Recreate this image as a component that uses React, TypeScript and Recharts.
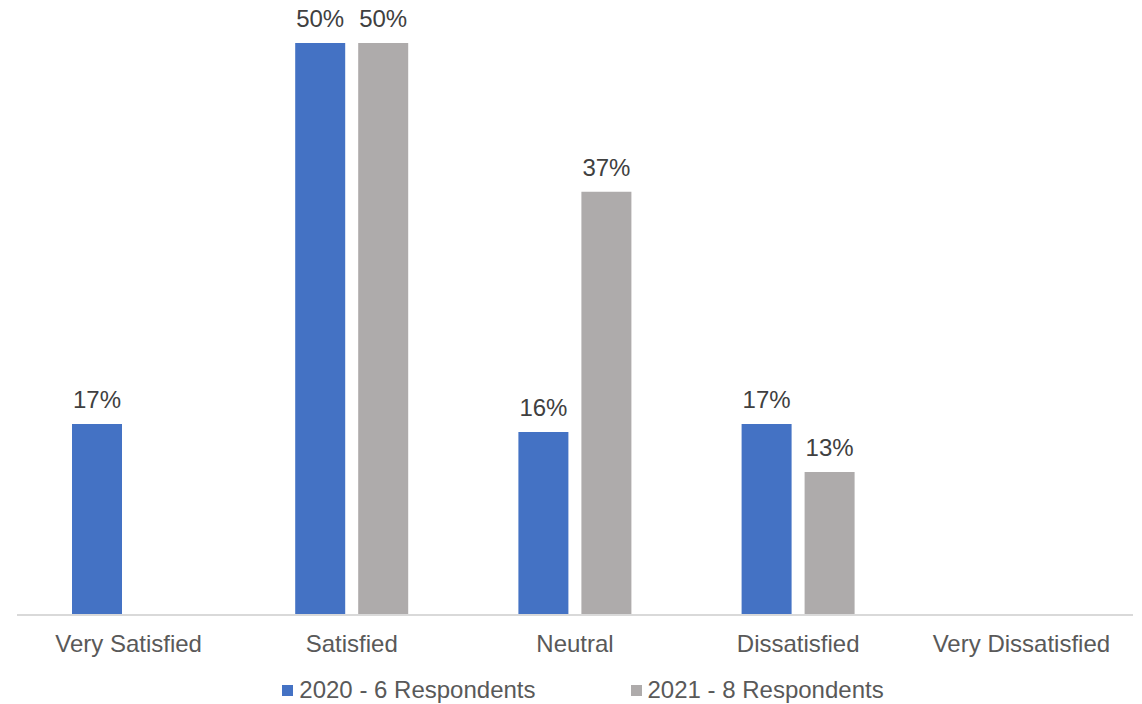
import React from 'react';
import { BarChart, Bar, XAxis, YAxis, Legend, LabelList } from 'recharts';

const categories = ['Very Satisfied', 'Satisfied', 'Neutral', 'Dissatisfied', 'Very Dissatisfied'];
const series2020 = [16.7, 50, 16, 16.7, null];
const series2021 = [null, 50, 37, 12.5, null];
const labels2020 = ['17%', '50%', '16%', '17%', null];
const labels2021 = [null, '50%', '37%', '13%', null];
const seriesNames = ['2020 - 6 Respondents', '2021 - 8 Respondents'];
const colors = ['#4472C4', '#AEABAB'];

const data = categories.map((c, i) => ({
  name: c,
  a: series2020[i],
  b: series2021[i],
  la: labels2020[i],
  lb: labels2021[i],
}));

const FONT = 'Liberation Sans, Arial, sans-serif';

const renderLegend = () => (
  <div style={{ display: 'flex', justifyContent: 'center', fontFamily: FONT, fontSize: 24, color: '#595959', height: 28, alignItems: 'center', paddingLeft: 16 }}>
    {seriesNames.map((n, i) => (
      <div key={n} style={{ display: 'flex', alignItems: 'center', marginLeft: i === 0 ? 0 : 95 }}>
        <span style={{ display: 'inline-block', width: 11, height: 11, background: colors[i], marginRight: 6 }} />
        <span>{n}</span>
      </div>
    ))}
  </div>
);

export default function App() {
  return (
    <div style={{ position: 'absolute', left: 0, top: 0, background: '#fff' }}>
      <BarChart
        width={1142}
        height={704}
        data={data}
        margin={{ top: 43, right: 9, left: 17, bottom: 0 }}
        barSize={50}
        barGap={13}
      >
        <XAxis
          dataKey="name"
          axisLine={{ stroke: '#D9D9D9', strokeWidth: 2 }}
          tickLine={false}
          tick={{ fontSize: 24, fill: '#595959', fontFamily: FONT }}
          tickMargin={14}
          height={61}
          interval={0}
        />
        <YAxis hide domain={[0, 50]} />
        <Legend verticalAlign="bottom" content={renderLegend} />
        <Bar dataKey="a" fill={colors[0]} isAnimationActive={false}>
          <LabelList dataKey="la" position="top" offset={16} style={{ fontSize: 24, fill: '#404040', fontFamily: FONT }} />
        </Bar>
        <Bar dataKey="b" fill={colors[1]} isAnimationActive={false}>
          <LabelList dataKey="lb" position="top" offset={16} style={{ fontSize: 24, fill: '#404040', fontFamily: FONT }} />
        </Bar>
      </BarChart>
    </div>
  );
}
